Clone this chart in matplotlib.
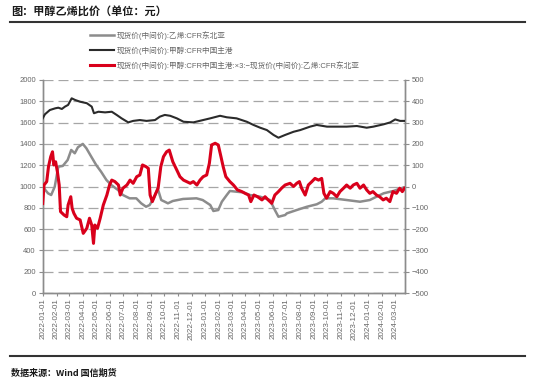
import matplotlib
matplotlib.use("Agg")
import matplotlib.pyplot as plt
import matplotlib.dates as mdates
import pandas as pd
from matplotlib.lines import Line2D

plt.rcParams['font.family'] = ['Liberation Sans', 'Noto Sans CJK SC', 'DejaVu Sans']
plt.rcParams['axes.unicode_minus'] = True

# ---------------- data ----------------
ethylene_dates = ["2022-01-01", "2022-01-13", "2022-01-20", "2022-01-28", "2022-02-05", "2022-02-15",
                  "2022-02-26", "2022-03-06", "2022-03-14", "2022-03-21", "2022-04-01", "2022-04-09",
                  "2022-04-20", "2022-05-01", "2022-05-12", "2022-05-24", "2022-06-04", "2022-06-19",
                  "2022-06-30", "2022-07-15", "2022-07-30", "2022-08-10", "2022-08-21", "2022-08-29",
                  "2022-09-09", "2022-09-16", "2022-09-24", "2022-10-02", "2022-10-09", "2022-10-20",
                  "2022-11-12", "2022-12-12", "2022-12-26", "2023-01-12", "2023-01-19", "2023-01-30",
                  "2023-02-07", "2023-02-18", "2023-02-25", "2023-03-12", "2023-03-27", "2023-04-11",
                  "2023-05-04", "2023-05-26", "2023-06-06", "2023-06-14", "2023-06-29", "2023-07-03",
                  "2023-07-25", "2023-08-17", "2023-09-08", "2023-09-19", "2023-09-27", "2023-10-15",
                  "2023-11-14", "2023-12-14", "2024-01-05", "2024-01-20", "2024-02-05", "2024-02-27",
                  "2024-03-20"]
ethylene_values = [998, 936, 920, 998, 1186, 1193, 1249, 1343, 1312, 1368, 1400, 1359,
                   1280, 1202, 1139, 1061, 1014, 967, 920, 889, 889, 842, 810, 826,
                   904, 983, 873, 857, 842, 864, 883, 889, 873, 826, 770, 779,
                   857, 920, 958, 951, 945, 920, 904, 873, 779, 716, 732, 748,
                   779, 810, 833, 857, 889, 889, 873, 857, 873, 904, 936, 958,
                   990]

methanol_dates = ["2022-01-01", "2022-01-06", "2022-01-17", "2022-01-29", "2022-02-05", "2022-02-13",
                  "2022-02-20", "2022-02-27", "2022-03-07", "2022-03-15", "2022-03-26", "2022-04-10",
                  "2022-04-21", "2022-04-26", "2022-05-06", "2022-05-21", "2022-06-05", "2022-06-16",
                  "2022-06-27", "2022-07-12", "2022-07-23", "2022-08-07", "2022-08-22", "2022-09-10",
                  "2022-09-21", "2022-10-02", "2022-10-14", "2022-10-29", "2022-11-13", "2022-12-05",
                  "2022-12-27", "2023-01-12", "2023-02-03", "2023-02-18", "2023-03-12", "2023-04-04",
                  "2023-04-19", "2023-05-04", "2023-05-19", "2023-06-03", "2023-06-14", "2023-06-29",
                  "2023-07-18", "2023-08-02", "2023-08-24", "2023-09-08", "2023-10-01", "2023-10-23",
                  "2023-11-14", "2023-12-07", "2023-12-29", "2024-01-13", "2024-02-05", "2024-02-20",
                  "2024-03-02", "2024-03-13", "2024-03-24"]
methanol_values = [320, 339, 359, 367, 370, 364, 375, 383, 414, 406, 398, 391,
                   375, 344, 351, 348, 351, 336, 320, 301, 308, 312, 308, 312,
                   328, 336, 332, 320, 304, 301, 312, 320, 332, 325, 320, 304,
                   289, 276, 265, 242, 229, 242, 257, 265, 281, 289, 281, 281,
                   281, 284, 276, 281, 292, 301, 315, 308, 308]

spread_dates = ["2022-01-01", "2022-01-04", "2022-01-10", "2022-01-14", "2022-01-19", "2022-01-23",
                "2022-01-26", "2022-01-30", "2022-02-03", "2022-02-07", "2022-02-10", "2022-02-18",
                "2022-02-24", "2022-02-27", "2022-03-05", "2022-03-08", "2022-03-12", "2022-03-18",
                "2022-03-26", "2022-04-02", "2022-04-10", "2022-04-16", "2022-04-21", "2022-04-25",
                "2022-04-28", "2022-05-04", "2022-05-10", "2022-05-17", "2022-05-25", "2022-05-31",
                "2022-06-05", "2022-06-12", "2022-06-20", "2022-06-24", "2022-06-30", "2022-07-09",
                "2022-07-16", "2022-07-23", "2022-07-31", "2022-08-07", "2022-08-13", "2022-08-21",
                "2022-08-26", "2022-08-30", "2022-09-04", "2022-09-10", "2022-09-17", "2022-09-23",
                "2022-09-29", "2022-10-06", "2022-10-12", "2022-10-20", "2022-10-29", "2022-11-05",
                "2022-11-13", "2022-11-20", "2022-11-28", "2022-12-05", "2022-12-13", "2022-12-20",
                "2022-12-27", "2023-01-04", "2023-01-10", "2023-01-15", "2023-01-23", "2023-01-30",
                "2023-02-05", "2023-02-10", "2023-02-16", "2023-02-25", "2023-03-05", "2023-03-14",
                "2023-03-24", "2023-03-31", "2023-04-08", "2023-04-13", "2023-04-20", "2023-04-28",
                "2023-05-08", "2023-05-15", "2023-05-22", "2023-05-30", "2023-06-06", "2023-06-14",
                "2023-06-21", "2023-06-29", "2023-07-10", "2023-07-18", "2023-07-25", "2023-07-31",
                "2023-08-05", "2023-08-13", "2023-08-20", "2023-08-28", "2023-09-04", "2023-09-12",
                "2023-09-19", "2023-09-24", "2023-09-30", "2023-10-08", "2023-10-15", "2023-10-23",
                "2023-10-30", "2023-11-07", "2023-11-14", "2023-11-22", "2023-11-29", "2023-12-07",
                "2023-12-14", "2023-12-22", "2023-12-29", "2024-01-05", "2024-01-12", "2024-01-20",
                "2024-01-27", "2024-02-04", "2024-02-11", "2024-02-19", "2024-02-26", "2024-03-05",
                "2024-03-12", "2024-03-18", "2024-03-23"]
spread_values = [-80, 7, 23, 93, 140, 163, 101, 116, 69, 7, -118, -134,
                 -142, -87, -48, -102, -126, -149, -157, -220, -196, -149, -181, -267,
                 -181, -196, -149, -87, -40, 7, 30, 23, 7, -40, -8, 7,
                 30, 15, 46, 54, 101, 93, 85, -40, -71, -40, -8, 93,
                 140, 163, 171, 116, 77, 46, 30, 23, 15, 23, 7, 30,
                 46, 54, 109, 195, 203, 195, 140, 93, 46, 23, 7, -16,
                 -24, -32, -40, -71, -40, -48, -63, -48, -63, -79, -40, -24,
                 -8, 7, 15, 0, 15, 23, -8, -40, 7, 23, 38, 30,
                 38, -32, -55, -24, -32, -48, -24, -8, 7, -8, 7, 15,
                 -8, 7, -16, -32, -24, -40, -48, -63, -55, -71, -24, -32,
                 -8, -24, -8]

tick_months = pd.date_range("2022-01-01", "2024-03-01", freq="MS")

labels = ["现货价(中间价):乙烯:CFR东北亚",
          "现货价(中间价):甲醇:CFR中国主港",
          "现货价(中间价):甲醇:CFR中国主港:×3:−现货价(中间价):乙烯:CFR东北亚"]

# ---------------- figure ----------------
W, H = 535, 383
fig = plt.figure(figsize=(W / 100, H / 100), dpi=100)
ax = fig.add_axes([42.7 / W, 1 - 293 / H, (405 - 42.7) / W, (293 - 80) / H])
ax2 = ax.twinx()

c_gray = "#8c8c8c"
c_black = "#2b2b2b"
c_red = "#d9001b"
c_axis = "#8c8c8c"
c_text = "#666666"

l1, = ax.plot(pd.to_datetime(ethylene_dates), ethylene_values, color=c_gray, lw=1.8, zorder=3)
l2, = ax2.plot(pd.to_datetime(methanol_dates), methanol_values, color=c_black, lw=1.5, zorder=3)
l3, = ax2.plot(pd.to_datetime(spread_dates), spread_values, color=c_red, lw=2.2, zorder=4)

ax.set_ylim(0, 2000)
ax.set_yticks(range(0, 2001, 200))
ax2.set_ylim(-500, 500)
ax2.set_yticks(range(-500, 501, 100))
ax.set_xlim(pd.Timestamp("2022-01-01"), pd.Timestamp("2024-03-24"))
ax.set_xticks(tick_months)
ax.xaxis.set_major_formatter(mdates.DateFormatter("%Y-%m-%d"))

for a in (ax, ax2):
    for s in a.spines.values():
        s.set_color(c_axis)
        s.set_linewidth(1.0)
    a.spines['top'].set_visible(False)

ax.grid(axis='y', color="#a6a6a6", linestyle=(0, (8, 4)), linewidth=0.9)
ax.set_axisbelow(True)

ax.tick_params(axis='y', direction='out', length=3, width=0.8, color=c_axis,
               labelsize=5.5, labelcolor=c_text, pad=2)
ax2.tick_params(axis='y', direction='out', length=3, width=0.8, color=c_axis,
                labelsize=5.5, labelcolor=c_text, pad=2)
ax.tick_params(axis='x', direction='out', length=2.5, width=0.8, color=c_axis,
               labelsize=5.8, labelcolor=c_text, pad=1.5, labelrotation=90)

# legend
fig.legend([l1, l2, l3], labels, loc='upper left',
           bbox_to_anchor=(90 / W, 1 - 31 / H), frameon=False,
           fontsize=5.5, labelcolor=c_text, handlelength=3.2,
           handletextpad=0.3, labelspacing=0.85, borderaxespad=0, borderpad=0)

# title and source
fig.text(11 / W, 1 - 12 / H, "图：甲醇乙烯比价（单位：元）", family=['Noto Sans CJK SC'],
         fontsize=8, fontweight='bold', color="#1a1a1a", va='center', ha='left')
fig.add_artist(Line2D([10 / W, 525 / W], [1 - 22 / H, 1 - 22 / H], color="#333333", lw=1.5))
fig.add_artist(Line2D([10 / W, 525 / W], [1 - 356 / H, 1 - 356 / H], color="#333333", lw=1.5))
fig.text(11 / W, 1 - 373 / H, "数据来源：Wind 国信期货", family=['Noto Sans CJK SC'],
         fontsize=6.5, fontweight='bold', color="#1a1a1a", va='center', ha='left')

fig.savefig("out.png", dpi=100)
